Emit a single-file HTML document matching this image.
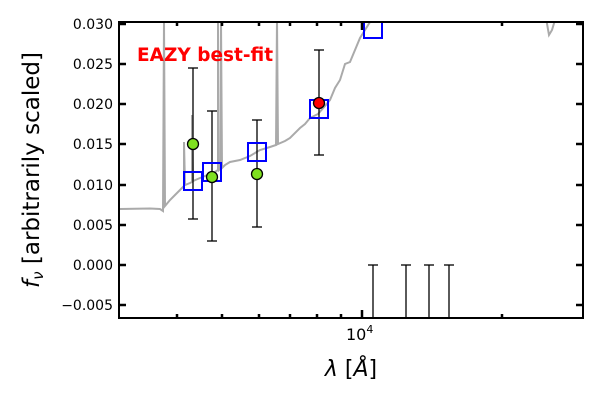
<!DOCTYPE html>
<html><head><style>body{margin:0;background:#fff}</style></head><body>
<svg width="600" height="400" xmlns="http://www.w3.org/2000/svg" font-family="DejaVu Sans, Liberation Sans, sans-serif">
<defs><clipPath id="c"><rect x="119" y="22" width="464" height="296"/></clipPath></defs>
<g clip-path="url(#c)">
<polyline fill="none" stroke="#aaa" stroke-width="2" points="119,209 150,208.5 160,209 163,211 164,20 165,206 170,200 175,195 180,190 184,186 184,142 185,185 190,183 192,182 192,115 193,181 200,178 205,176 210,174 215,172 218,170 218,20 219,170 221,168 221,20 222,168 225,165 230,162 240,160 250,156 260,150 270,147 276,145 277,20 278,144 285,141 290,138 300,128 305,124 310,118 318,114 325,106 330,100 335,88 340,80 345,64 350,62 355,50 360,38 365,30 370,22 375,18"/>
<polyline fill="none" stroke="#aaa" stroke-width="2" points="546,18 549,35 552,30 555,20 558,18"/>
</g>
<g stroke="#000" stroke-width="1.3">
<line x1="193" y1="68" x2="193" y2="219"/><line x1="188" y1="68" x2="198" y2="68"/><line x1="188" y1="219" x2="198" y2="219"/>
<line x1="212" y1="111" x2="212" y2="241"/><line x1="207" y1="111" x2="217" y2="111"/><line x1="207" y1="241" x2="217" y2="241"/>
<line x1="257" y1="120" x2="257" y2="227"/><line x1="252" y1="120" x2="262" y2="120"/><line x1="252" y1="227" x2="262" y2="227"/>
<line x1="319" y1="50" x2="319" y2="155"/><line x1="314" y1="50" x2="324" y2="50"/><line x1="314" y1="155" x2="324" y2="155"/>
<line x1="373" y1="265" x2="373" y2="318"/><line x1="368" y1="265" x2="378" y2="265"/>
<line x1="406" y1="265" x2="406" y2="318"/><line x1="401" y1="265" x2="411" y2="265"/>
<line x1="429" y1="265" x2="429" y2="318"/><line x1="424" y1="265" x2="434" y2="265"/>
<line x1="449" y1="265" x2="449" y2="318"/><line x1="444" y1="265" x2="454" y2="265"/>
</g>
<g clip-path="url(#c)" fill="none" stroke="#00f" stroke-width="2">
<rect x="184" y="172" width="18" height="18"/><rect x="203" y="163" width="18" height="18"/>
<rect x="248" y="143" width="18" height="18"/><rect x="310" y="100" width="18" height="18"/>
<rect x="364" y="20" width="18" height="18"/>
</g>
<g stroke="#000" stroke-width="1.3">
<circle cx="193" cy="144" r="5.5" fill="#7fe01f"/><circle cx="212" cy="177" r="5.5" fill="#7fe01f"/>
<circle cx="257" cy="174" r="5.5" fill="#7fe01f"/><circle cx="319" cy="103" r="5.5" fill="#f00"/>
</g>
<text x="137" y="61" fill="#f00" font-weight="bold" font-size="18.5">EAZY best-fit</text>
<rect x="119" y="22" width="464" height="296" fill="none" stroke="#000" stroke-width="2"/>
<g stroke="#000" stroke-width="2.5">
<path d="M119,24h7M119,64h7M119,104h7M119,144h7M119,185h7M119,225h7M119,265h7M119,305h7"/>
<path d="M583,24h-7M583,64h-7M583,104h-7M583,144h-7M583,185h-7M583,225h-7M583,265h-7M583,305h-7"/>
<path d="M362,22v8M362,318v-8"/>
<path d="M177,22v4M222,22v4M259,22v4M290,22v4M317,22v4M341,22v4M502,22v4M177,318v-4M222,318v-4M259,318v-4M290,318v-4M317,318v-4M341,318v-4M502,318v-4"/>
</g>
<g font-size="14" text-anchor="end">
<text x="113" y="29">0.030</text><text x="113" y="69">0.025</text><text x="113" y="109">0.020</text>
<text x="113" y="149">0.015</text><text x="113" y="190">0.010</text><text x="113" y="230">0.005</text>
<text x="113" y="270">0.000</text><text x="113" y="310">−0.005</text>
</g>
<text x="346" y="340" font-size="16">10<tspan dy="-7" font-size="11">4</tspan></text>
<text x="351" y="376" font-size="22" text-anchor="middle"><tspan font-style="italic">λ</tspan> [<tspan font-style="italic">Å</tspan>]</text>
<text transform="translate(39,170) rotate(-90)" font-size="23" text-anchor="middle"><tspan font-style="italic">f</tspan><tspan font-style="italic" font-size="15" dy="4">ν</tspan><tspan dy="-4"> [arbitrarily scaled]</tspan></text>
</svg>
</body></html>
